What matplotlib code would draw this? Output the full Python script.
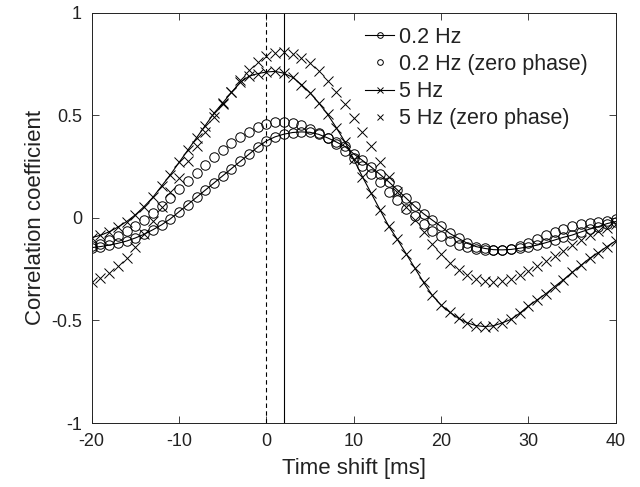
import numpy as np
import matplotlib
matplotlib.use("Agg")
import matplotlib.pyplot as plt

plt.rcParams["font.family"] = ["Liberation Sans", "DejaVu Sans"]

# time shift axis, one sample per ms
t = np.arange(-20, 41)

hz02 = [-0.145, -0.140, -0.133, -0.124, -0.113, -0.098, -0.080, -0.058, -0.034, -0.005,
        0.030, 0.065, 0.100, 0.135, 0.170, 0.205, 0.240, 0.275, 0.310, 0.345,
        0.375, 0.395, 0.408, 0.416, 0.419, 0.417, 0.407, 0.390, 0.370, 0.348,
        0.312, 0.280, 0.248, 0.212, 0.176, 0.136, 0.096, 0.056, 0.020, -0.011,
        -0.042, -0.076, -0.100, -0.124, -0.140, -0.149, -0.155, -0.156, -0.154, -0.148,
        -0.141, -0.133, -0.121, -0.108, -0.095, -0.084, -0.069, -0.055, -0.043, -0.028,
        -0.018]

hz02_zp = [-0.138, -0.125, -0.110, -0.090, -0.066, -0.040, -0.010, 0.022, 0.058, 0.098,
           0.140, 0.180, 0.220, 0.260, 0.298, 0.333, 0.367, 0.395, 0.420, 0.442,
           0.456, 0.466, 0.468, 0.462, 0.451, 0.435, 0.413, 0.390, 0.360, 0.327,
           0.292, 0.255, 0.216, 0.174, 0.128, 0.085, 0.045, 0.008, -0.030, -0.063,
           -0.088, -0.112, -0.130, -0.144, -0.153, -0.158, -0.159, -0.157, -0.150, -0.138,
           -0.123, -0.103, -0.085, -0.068, -0.055, -0.041, -0.031, -0.024, -0.018, -0.013,
           -0.006]

hz5 = [-0.096, -0.085, -0.068, -0.045, -0.018, 0.015, 0.055, 0.100, 0.155, 0.210,
       0.270, 0.330, 0.390, 0.450, 0.510, 0.560, 0.612, 0.660, 0.690, 0.703,
       0.711, 0.714, 0.705, 0.685, 0.650, 0.610, 0.560, 0.505, 0.440, 0.370,
       0.285, 0.200, 0.120, 0.040, -0.040, -0.105, -0.175, -0.245, -0.315, -0.378,
       -0.425, -0.460, -0.490, -0.512, -0.525, -0.530, -0.526, -0.512, -0.495, -0.465,
       -0.430, -0.400, -0.370, -0.335, -0.302, -0.266, -0.232, -0.198, -0.170, -0.140,
       -0.112]

hz5_zp = [-0.315, -0.293, -0.268, -0.236, -0.195, -0.140, -0.080, -0.015, 0.055, 0.125,
          0.195, 0.275, 0.351, 0.420, 0.490, 0.555, 0.615, 0.670, 0.720, 0.758,
          0.787, 0.803, 0.808, 0.797, 0.780, 0.755, 0.716, 0.668, 0.615, 0.553,
          0.487, 0.418, 0.348, 0.272, 0.198, 0.125, 0.055, -0.010, -0.070, -0.128,
          -0.178, -0.220, -0.253, -0.278, -0.297, -0.309, -0.313, -0.310, -0.298, -0.280,
          -0.258, -0.236, -0.212, -0.187, -0.160, -0.133, -0.108, -0.085, -0.064, -0.047,
          -0.032]

labels = ["0.2 Hz", "0.2 Hz (zero phase)", "5 Hz", "5 Hz (zero phase)"]
xticks = [-20, -10, 0, 10, 20, 30, 40]
yticks = [-1, -0.5, 0, 0.5, 1]
yticklabels = ["-1", "-0.5", "0", "0.5", "1"]
vlines = [0, 2]  # dashed at zero lag, solid at the 2 ms delay

fig = plt.figure(figsize=(6.4, 4.87), dpi=100)
ax = fig.add_axes([0.1433, 0.1314, 0.8188, 0.8425])

ms = 6.8
ax.plot(t, hz02, ls="-", color="k", lw=0.8, marker="o", ms=ms, mfc="none", mew=0.7, label=labels[0])
ax.plot(t, hz02_zp, ls="none", color="k", marker="o", ms=ms, mfc="none", mew=0.7, label=labels[1])
ax.plot(t, hz5, ls="-", color="k", lw=0.8, marker="x", ms=ms, mew=0.7, label=labels[2])
ax.plot(t, hz5_zp, ls="none", color="k", marker="x", ms=ms, mew=0.7, label=labels[3])

ax.axvline(vlines[0], color="k", lw=0.8, ls=(0, (4, 3)))
ax.axvline(vlines[1], color="k", lw=0.8)

ax.set_xlim(-20, 40)
ax.set_ylim(-1, 1)
ax.set_xticks(xticks)
ax.set_xticklabels([str(v) for v in xticks])
ax.set_yticks(yticks)
ax.set_yticklabels(yticklabels)
ax.tick_params(direction="in", length=5, width=0.6, top=True, right=True,
               labelsize=13, pad=7, colors="#222222")
for s in ax.spines.values():
    s.set_linewidth(0.7)
    s.set_color("#222222")

ax.set_xlabel("Time shift [ms]", fontsize=16, color="#222222", labelpad=6)
ax.set_ylabel("Correlation coefficient", fontsize=16, color="#222222", labelpad=4)

leg = ax.legend(loc="upper left", bbox_to_anchor=(0.522, 0.966), frameon=False,
                fontsize=15.5, markerscale=0.6, handlelength=1.35, handletextpad=0.2,
                labelspacing=0.29, borderpad=0, borderaxespad=0)
for txt in leg.get_texts():
    txt.set_color("#222222")

fig.savefig("out.png", dpi=100)
